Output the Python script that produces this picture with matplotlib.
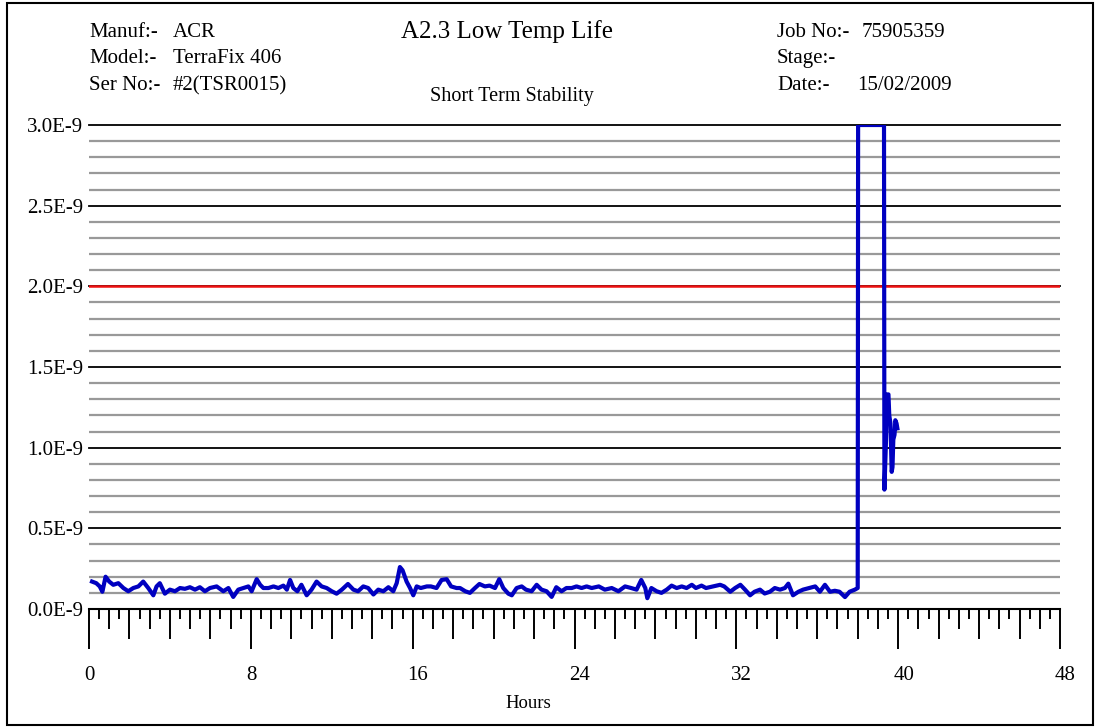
import matplotlib
matplotlib.use("Agg")
import matplotlib.pyplot as plt
import numpy as np
from matplotlib.patches import Rectangle

plt.rcParams['font.family'] = ['Liberation Serif', 'DejaVu Serif']

# stability readings, hours vs value in units of 1E-9
hours = [0.15, 0.36, 0.53, 0.66, 0.82, 1.0, 1.2, 1.45, 1.7, 1.94, 2.19, 2.44, 2.68, 2.93,
         3.18, 3.34, 3.5, 3.75, 4.0, 4.25, 4.5, 4.74, 4.99, 5.24, 5.48, 5.73, 5.98,
         6.31, 6.64, 6.89, 7.13, 7.38, 7.63, 7.88, 8.04, 8.29, 8.46, 8.62, 8.87, 9.12,
         9.36, 9.61, 9.78, 9.94, 10.1, 10.3, 10.5, 10.76, 11.0, 11.25, 11.5, 11.75,
         12.0, 12.24, 12.5, 12.8, 13.07, 13.3, 13.56, 13.8, 14.06, 14.3, 14.55, 14.8,
         15.04, 15.21, 15.37, 15.5, 15.7, 15.87, 16.03, 16.2, 16.4, 16.7, 16.9, 17.18,
         17.43, 17.68, 17.9, 18.17, 18.34, 18.6, 18.83, 19.08, 19.3, 19.57, 19.8, 20.07,
         20.28, 20.48, 20.73, 20.9, 21.14, 21.39, 21.6, 21.88, 22.13, 22.37, 22.62,
         22.87, 23.1, 23.36, 23.6, 23.86, 24.1, 24.35, 24.6, 24.85, 25.2, 25.5, 25.84,
         26.17, 26.5, 26.8, 27.07, 27.3, 27.5, 27.6, 27.8, 28.06, 28.3, 28.56, 28.8,
         29.05, 29.3, 29.54, 29.8, 30.0, 30.28, 30.5, 30.86, 31.2, 31.4, 31.7, 31.94,
         32.2, 32.43, 32.68, 32.9, 33.17, 33.4, 33.66, 33.9, 34.16, 34.4, 34.57, 34.8,
         35.07, 35.3, 35.6, 35.9, 36.13, 36.38, 36.63, 36.87, 37.1, 37.37, 37.6, 37.86,
         38.0, 38.02, 39.3, 39.32, 39.4, 39.45, 39.52, 39.56, 39.62, 39.68, 39.72,
         39.76, 39.82, 39.86, 39.92, 39.96]
values = [0.17, 0.16, 0.14, 0.107, 0.2, 0.17, 0.15, 0.16, 0.13, 0.11, 0.13, 0.14, 0.17, 0.13,
          0.085, 0.14, 0.16, 0.095, 0.12, 0.11, 0.13, 0.125, 0.135, 0.12, 0.135, 0.11, 0.13,
          0.14, 0.11, 0.13, 0.075, 0.12, 0.13, 0.14, 0.11, 0.185, 0.15, 0.13, 0.13, 0.14,
          0.13, 0.145, 0.12, 0.18, 0.13, 0.11, 0.15, 0.085, 0.12, 0.17, 0.14, 0.13,
          0.11, 0.095, 0.12, 0.155, 0.12, 0.11, 0.14, 0.13, 0.09, 0.12, 0.11, 0.135,
          0.11, 0.16, 0.26, 0.24, 0.17, 0.13, 0.085, 0.14, 0.13, 0.14, 0.14, 0.13,
          0.18, 0.185, 0.14, 0.13, 0.13, 0.11, 0.10, 0.13, 0.155, 0.14, 0.145, 0.13,
          0.185, 0.13, 0.095, 0.085, 0.13, 0.14, 0.12, 0.11, 0.15, 0.12, 0.11,
          0.075, 0.135, 0.11, 0.13, 0.13, 0.14, 0.13, 0.14, 0.13, 0.14, 0.12, 0.13,
          0.11, 0.14, 0.13, 0.12, 0.18, 0.13, 0.067, 0.13, 0.11, 0.10, 0.12, 0.145,
          0.13, 0.14, 0.13, 0.15, 0.13, 0.145, 0.13, 0.14, 0.15, 0.14, 0.107, 0.13,
          0.15, 0.12, 0.085, 0.107, 0.12, 0.096, 0.107, 0.13, 0.12, 0.13, 0.157, 0.085,
          0.107, 0.12, 0.13, 0.14, 0.107, 0.15, 0.107, 0.113, 0.107, 0.074, 0.107, 0.12,
          0.13, 3.0, 3.0, 0.74, 1.05, 1.33, 1.33, 1.2, 1.15, 0.85, 0.88,
          1.05, 1.08, 1.17, 1.15, 1.12]

limit = 2.0
y_ticks = [0.0, 0.5, 1.0, 1.5, 2.0, 2.5, 3.0]
y_tick_labels = ['0.0E-9', '0.5E-9', '1.0E-9', '1.5E-9', '2.0E-9', '2.5E-9', '3.0E-9']
x_labels = [0, 8, 16, 24, 32, 40, 48]


def fx(px):
    return px / 1098


def fy(py):
    return 1 - py / 728


fig = plt.figure(figsize=(10.98, 7.28), dpi=100)
ax = fig.add_axes([89 / 1098, 1 - 609 / 728, 971 / 1098, 484 / 728])
ax.set_xlim(0, 48)
ax.set_ylim(0, 3.0)

# horizontal grid: grey every 0.1, black every 0.5, red limit line
for i in range(1, 31):
    y = i / 10
    if i % 5 == 0:
        ax.axhline(y, color='black', lw=1.3, zorder=1, clip_on=False)
    else:
        ax.axhline(y, color='#999999', lw=1.6, zorder=1)
ax.axhline(limit, color='#ee1111', lw=1.8, zorder=2)

ax.plot(hours, values, color='#0000c0', lw=3.0, zorder=3, solid_joinstyle='round')

for s in ['top', 'right', 'left']:
    ax.spines[s].set_visible(False)
ax.spines['bottom'].set_linewidth(1.5)

ax.set_yticks(y_ticks)
ax.set_yticklabels(y_tick_labels, fontsize=15)
ax.tick_params(axis='y', length=0, pad=4)

# x ticks of four lengths: 0.5h, 1h, 2h, 8h
ax.set_xticks([])
trans = ax.get_xaxis_transform()
for k in range(0, 97):
    h = k / 2
    if k % 16 == 0:
        ln = 40
    elif k % 4 == 0:
        ln = 30
    elif k % 2 == 0:
        ln = 20
    else:
        ln = 10
    ax.plot([h, h], [0, -ln / 484], color='black', lw=1.4, transform=trans,
            clip_on=False, solid_capstyle='butt')
for v in x_labels:
    ax.text(v - 5 / 20.23, -66 / 484, str(v), transform=trans, ha='left', va='center',
            fontsize=15)
fig.text(fx(528), fy(703), 'Hours', ha='center', va='center', fontsize=13.5)

# header
fig.text(fx(89), fy(37), 'Manuf:-', fontsize=15)
fig.text(fx(173), fy(37), 'ACR', fontsize=15)
fig.text(fx(89), fy(63.3), 'Model:-', fontsize=15)
fig.text(fx(173), fy(63.3), 'TerraFix 406', fontsize=15)
fig.text(fx(89), fy(90), 'Ser No:-', fontsize=15)
fig.text(fx(173), fy(90), '#2(TSR0015)', fontsize=15)
fig.text(fx(777), fy(37), 'Job No:-', fontsize=15)
fig.text(fx(862), fy(37), '75905359', fontsize=15)
fig.text(fx(777), fy(63.3), 'Stage:-', fontsize=15)
fig.text(fx(777), fy(90), 'Date:-', fontsize=15)
fig.text(fx(857), fy(90), '15/02/2009', fontsize=15)
fig.text(fx(507), fy(32), 'A2.3 Low Temp Life', fontsize=18, ha='center', va='center')
fig.text(fx(512), fy(97), 'Short Term Stability', fontsize=14.5, ha='center', va='center')

fig.patches.append(Rectangle((fx(7), fy(725)), fx(1086), 722 / 728, transform=fig.transFigure,
                             fill=False, edgecolor='black', lw=1.5))

fig.savefig('out.png', dpi=100)
